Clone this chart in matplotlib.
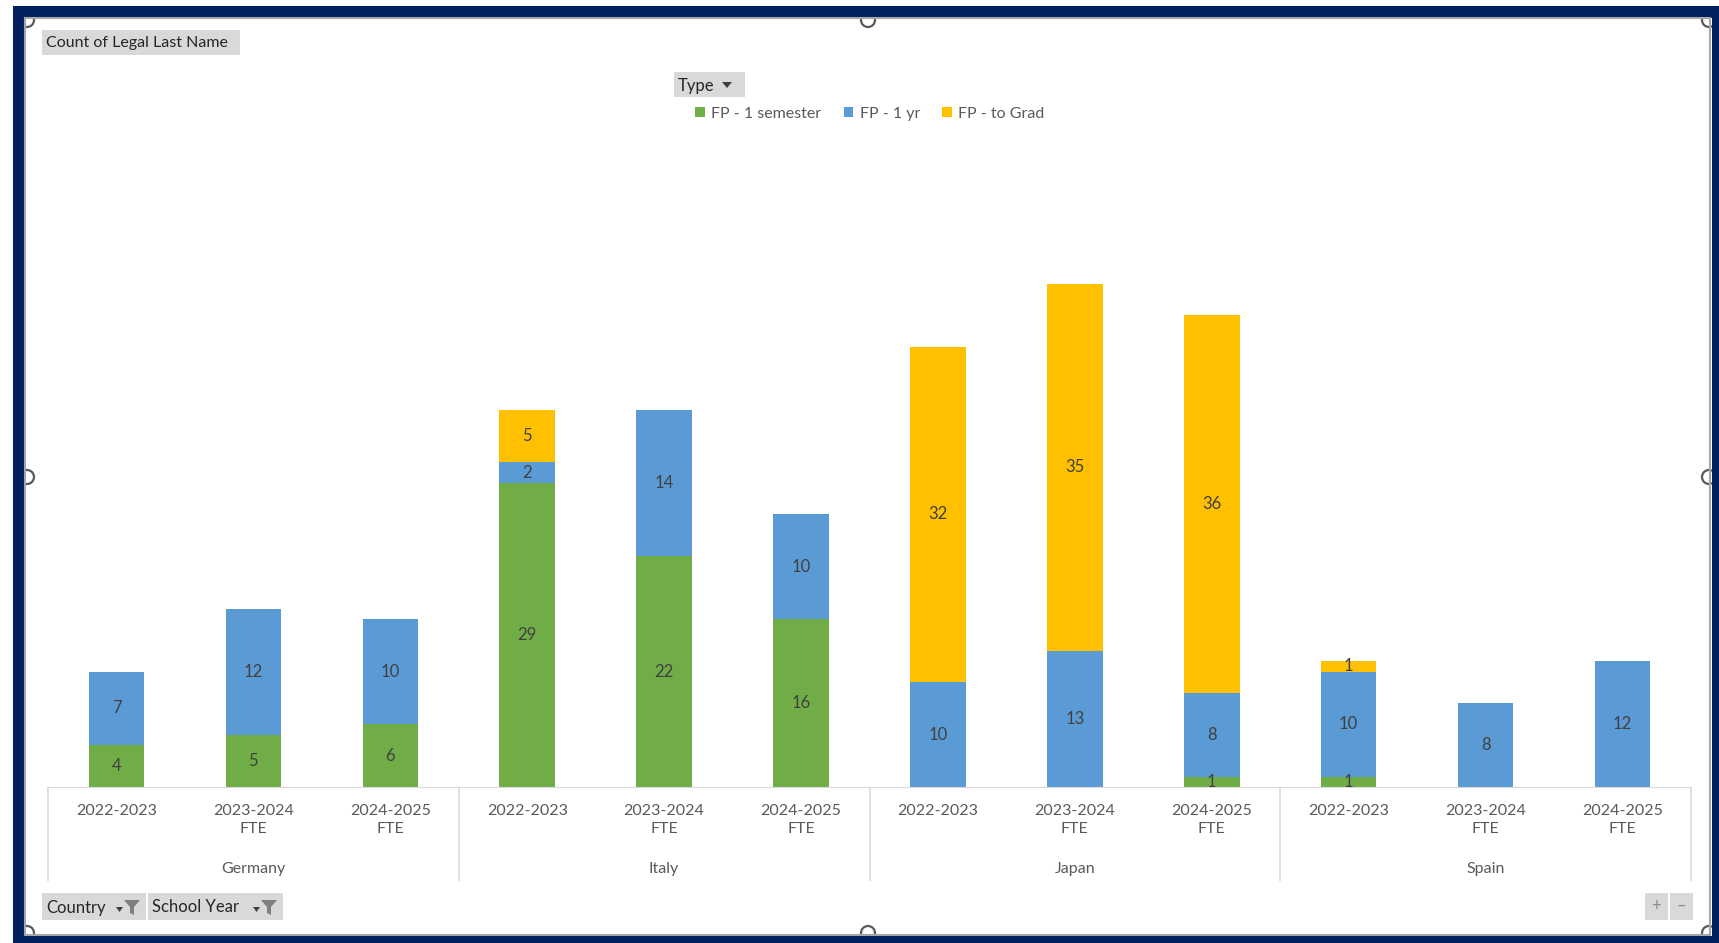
import matplotlib.pyplot as plt
import numpy as np
from matplotlib.patches import Rectangle, Circle, Patch

plt.rcParams['font.family'] = ['Lato', 'DejaVu Sans']

# Pivot data: Count of Legal Last Name by Country / School Year / Type
countries = ['Germany', 'Italy', 'Japan', 'Spain']
years = ['2022-2023', '2023-2024\nFTE', '2024-2025\nFTE']
series = ['FP - 1 semester', 'FP - 1 yr', 'FP - to Grad']
colors = ['#70AD47', '#5B9BD5', '#FFC000']

semester = [4, 5, 6, 29, 22, 16, 0, 0, 1, 1, 0, 0]
one_yr = [7, 12, 10, 2, 14, 10, 10, 13, 8, 10, 8, 12]
to_grad = [0, 0, 0, 5, 0, 0, 32, 35, 36, 1, 0, 0]

W, H = 1719, 943
fig = plt.figure(figsize=(W / 100, H / 100), dpi=100)

# background layer in pixel coordinates (frame, buttons, handles)
bg = fig.add_axes([0, 0, 1, 1], zorder=0)
bg.set_xlim(0, W)
bg.set_ylim(H, 0)
bg.axis('off')

# selection handles round the chart object (half hidden under the frame)
for hx, hy in [(868, 20), (868, 933), (27, 477), (1709, 477), (27, 20), (1709, 20), (27, 933), (1709, 933)]:
    bg.add_patch(Circle((hx, hy), 7, fc='white', ec='#595959', lw=1.6, zorder=1))

# navy window frame with thin gray sheet edge
navy = '#002060'
for r in [(13, 6, W - 13, 12), (13, 936, W - 13, 10), (13, 6, 12, H), (1712, 6, 10, H)]:
    bg.add_patch(Rectangle(r[:2], r[2], r[3], fc=navy, ec='none', zorder=2))
bg.add_patch(Rectangle((25, 18), 1685, 917, fc='none', ec='#A6A6A6', lw=1.5, zorder=2))


def button(x0, y0, w, h, label, size=11.5, filt=False):
    bg.add_patch(Rectangle((x0, y0), w, h, fc='#D9D9D9', ec='none'))
    bg.text(x0 + 4, y0 + h / 2 + 1, label, fontsize=size, color='#262626', va='center', ha='left')
    if filt:
        fx = x0 + w - 22
        bg.add_patch(plt.Polygon([[fx, y0 + 7], [fx + 16, y0 + 7], [fx + 10, y0 + 14],
                                  [fx + 10, y0 + 22], [fx + 6, y0 + 20], [fx + 6, y0 + 14]],
                                 closed=True, fc='#7F7F7F', ec='none'))
        bg.add_patch(plt.Polygon([[fx - 8, y0 + 14], [fx - 1, y0 + 14], [fx - 4.5, y0 + 19]],
                                 closed=True, fc='#404040', ec='none'))


button(42, 30, 198, 25, 'Count of Legal Last Name', size=11.5)
button(674, 72, 71, 25, 'Type', size=12)
bg.add_patch(plt.Polygon([[722, 82], [732, 82], [727, 88]], closed=True, fc='#404040', ec='none'))
button(42, 893, 104, 27, 'Country', size=12, filt=True)
button(148, 893, 135, 27, 'School Year', size=12, filt=True)
bg.add_patch(Rectangle((1645, 893), 23, 27, fc='#D9D9D9', ec='none'))
bg.add_patch(Rectangle((1670, 893), 23, 27, fc='#D9D9D9', ec='none'))
bg.text(1656.5, 906, '+', fontsize=12, color='#8C8C8C', ha='center', va='center')
bg.text(1681.5, 906, '\u2013', fontsize=12, color='#8C8C8C', ha='center', va='center')

# main plot area
ax = fig.add_axes([48 / W, 1 - 787 / H, 1643 / W, 629 / H], zorder=1)
ax.set_facecolor('none')
x = np.arange(len(semester))
bw = 0.405

bottom = np.zeros(len(x))
for name, vals, c in zip(series, [semester, one_yr, to_grad], colors):
    vals = np.array(vals, dtype=float)
    bars = ax.bar(x, vals, bw, bottom=bottom, color=c, label=name, zorder=2)
    ax.bar_label(bars, labels=[str(int(v)) if v > 0 else '' for v in vals],
                 label_type='center', fontsize=12, color='#404040')
    bottom += vals

ax.set_xlim(-0.5, len(x) - 0.5)
ax.set_ylim(0, 60)
ax.set_yticks([])
for s in ['top', 'left', 'right']:
    ax.spines[s].set_visible(False)
ax.spines['bottom'].set_color('#D9D9D9')
ax.set_xticks(x)
ax.set_xticklabels(years * len(countries), fontsize=11.5, color='#595959', linespacing=1.35)
ax.tick_params(axis='x', length=0, pad=12)

# country group labels and separators under the axis
tr = ax.get_xaxis_transform()
for i, name in enumerate(countries):
    ax.text(i * 3 + 1, -0.13, name, transform=tr, ha='center', va='center',
            fontsize=11.5, color='#595959')
ax.vlines(np.arange(len(countries) + 1) * 3 - 0.5, -0.149, 0, transform=tr,
          colors='#D9D9D9', lw=1.2, clip_on=False)

handles = [Patch(fc=c, ec='none', label=n) for n, c in zip(series, colors)]
fig.legend(handles=handles, loc='center', bbox_to_anchor=(870 / W, 1 - 114 / H), ncol=3,
           frameon=False, fontsize=11.5, labelcolor='#595959', handlelength=0.6, handleheight=0.6,
           handletextpad=0.4, columnspacing=1.4)

fig.savefig('out.png', dpi=100)
